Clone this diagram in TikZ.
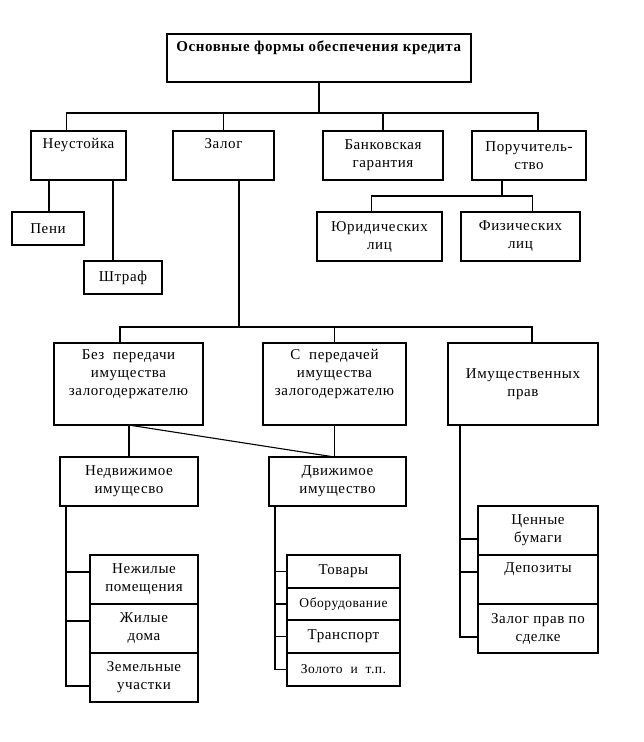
\documentclass[tikz,border=0pt]{standalone}
\usepackage{fontspec}
\setmainfont[LetterSpace=4]{Liberation Serif}
\usetikzlibrary{positioning}
\tikzset{
    block/.style={
           rectangle,
           draw=black, line width=1.1pt,
           inner sep=0pt, outer sep=0pt,
           align=center,
           font=\fontsize{15}{18}\selectfont,
           },
    dims/.style 2 args={minimum width=#1pt, minimum height=#2pt},
    link/.style={draw=black, line width=1.1pt},
}

\begin{document}
\begin{tikzpicture}[x=1pt,y=-1pt]
 \useasboundingbox (0,0) rectangle (643,742);

 % top of the tree
 \node[block, dims={304}{48}] (TITLE) at (319,58)
 {\textbf{Основные формы обеспечения кредита}\\\strut};

 % first level
 \node[block, dims={95}{49}]  (NEUST)  at (78.5,155.5) {Неустойка\\\strut};
 \node[block, dims={101}{49}] (ZALOG)  at (223.5,155.5) {Залог\\\strut};
 \node[block, dims={120}{49}] (BANK)   at (383,155.5) {Банковская\\гарантия};
 \node[block, dims={114}{49}] (PORUCH) at (529,155.5) {Поручитель-\\ство};

 % below Neustoyka and Poruchitelstvo
 \node[block, dims={72}{33}]  (PENI)   at (48,228.5) {Пени};
 \node[block, dims={78}{33}]  (SHTRAF) at (123,277.5) {Штраф};
 \node[block, dims={125}{49}] (YUR)    at (379.5,236.5) {Юридических\\лиц};
 \node[block, dims={119}{49}] (FIZ)    at (520.5,236.5) {Физических\\лиц};

 % kinds of pledge
 \node[block, dims={149}{82}] (BEZ)    at (128.5,384) {Без~~передачи\\имущества\\залогодержателю\\\strut};
 \node[block, dims={143}{82}] (SPERED) at (334.5,384) {С~~передачей\\имущества\\залогодержателю\\\strut};
 \node[block, dims={150}{82}] (IMPRAV) at (523,384) {Имущественных\\прав};

 \node[block, dims={138}{49}] (NEDV)   at (129,481.5) {Недвижимое\\имущесво};
 \node[block, dims={137}{49}] (DVIZH)  at (337.5,481.5) {Движимое\\имущество};

 % stacked lists
 \node[block, dims={108}{49}] (NEZH)   at (144,579.5) {Нежилые\\помещения};
 \node[block, dims={108}{49}, below=0pt of NEZH] (ZHIL)  {Жилые\\дома};
 \node[block, dims={108}{49}, below=0pt of ZHIL] (ZEMEL) {Земельные\\участки};

 \node[block, dims={113}{33}] (TOVARY) at (343.5,571.5) {Товары};
 \node[block, dims={113}{32}, below=0pt of TOVARY] (OBORUD) {\fontsize{13.5}{18}\selectfont Оборудование};
 \node[block, dims={113}{33}, below=0pt of OBORUD] (TRANSP) {Транспорт};
 \node[block, dims={113}{33}, below=0pt of TRANSP] (ZOLOTO) {\fontsize{13.5}{18}\selectfont Золото~~и~~т.п.};

 \node[block, dims={120}{49}] (CENNYE) at (538,530.5) {Ценные\\бумаги};
 \node[block, dims={120}{49}, below=0pt of CENNYE] (DEPOZ) {Депозиты\\\strut};
 \node[block, dims={120}{49}, below=0pt of DEPOZ]  (ZPRAV) {Залог прав по\\сделке};

 % bus points
 \coordinate (BUS1) at (319,113);
 \coordinate (BUS2) at (239,327);
 \coordinate (BUS3) at (502,196);

 % connectors of the first level
 \draw[link] (TITLE.south -| BUS1) -- (BUS1);
 \draw[link] (NEUST.north) ++(-12,0) |- (BUS1);
 \draw[link] (ZALOG.north) |- (BUS1);
 \draw[link] (BANK.north) |- (BUS1);
 \draw[link] (PORUCH.north) ++(9,0) |- (BUS1);

 % Neustoyka
 \draw[link] ([xshift=-29.5pt]NEUST.south) coordinate (NL) -- (NL |- PENI.north);
 \draw[link] ([xshift=34.5pt]NEUST.south) coordinate (NR) -- (NR |- SHTRAF.north);

 % Poruchitelstvo
 \draw[link] (PORUCH.south -| BUS3) -- (BUS3);
 \draw[link] (YUR.north) ++(-8,0) |- (BUS3);
 \draw[link] (FIZ.north) ++(12,0) |- (BUS3);

 % Zalog
 \draw[link] (ZALOG.south -| BUS2) -- (BUS2);
 \draw[link] (BEZ.north) ++(-8.5,0) |- (BUS2);
 \draw[link] (SPERED.north) |- (BUS2);
 \draw[link] (IMPRAV.north) ++(9,0) |- (BUS2);

 \draw[link] (BEZ.south -| NEDV.north) -- (NEDV.north);
 \draw[link] (BEZ.south) -- ([xshift=-3pt]DVIZH.north);
 \draw[link] (SPERED.south) -- (SPERED.south |- DVIZH.north);

 % side rails
 \draw[link] ([xshift=6pt]NEDV.south west) coordinate (NP) |- ([yshift=7.5pt]NEZH.west);
 \draw[link] (NP) |- ([yshift=7.5pt]ZHIL.west);
 \draw[link] (NP) |- ([yshift=-8.5pt]ZEMEL.west);

 \draw[link] ([xshift=6pt]DVIZH.south west) coordinate (DP) |- (TOVARY.west);
 \draw[link] (DP) |- (OBORUD.west);
 \draw[link] (DP) |- (TRANSP.west);
 \draw[link] (DP) |- (ZOLOTO.west);

 \draw[link] ([xshift=12pt]IMPRAV.south west) coordinate (IP) |- ([yshift=-8.5pt]CENNYE.west);
 \draw[link] (IP) |- ([yshift=7.5pt]DEPOZ.west);
 \draw[link] (IP) |- ([yshift=-8.5pt]ZPRAV.west);
\end{tikzpicture}
\end{document}
